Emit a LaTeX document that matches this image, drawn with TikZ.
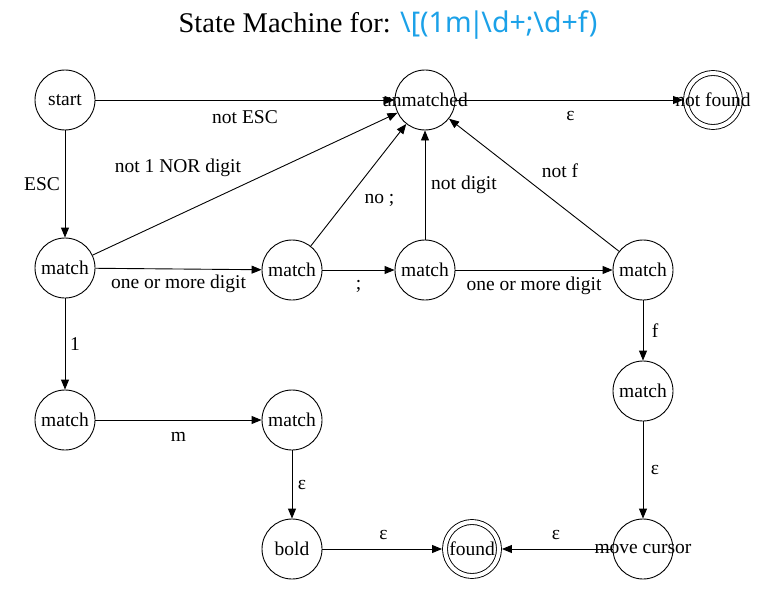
\documentclass[tikz,border=0pt]{standalone}
\usepackage{fontspec}
\setmainfont{Liberation Serif}
\newfontfamily\regexfont{Noto Sans}
\usepackage{tikz}
\usetikzlibrary{arrows.meta, positioning}
\definecolor{regexblue}{HTML}{1BA1E8}

\begin{document}
\begin{tikzpicture}[
    x=1pt, y=-1pt,
    % Styles for the state machine
    state/.style={draw, circle, line width=0.9pt, minimum size=60pt, inner sep=0pt, font=\fontsize{19.5}{22}\selectfont},
    final/.style={state, minimum size=54pt, double, double distance=4pt},
    edge/.style={line width=0.9pt, draw=black, -{Triangle[length=10pt, width=8pt]}},
    lbl/.style={font=\fontsize{19.5}{22}\selectfont, inner sep=0pt}
]
\useasboundingbox (0,0) rectangle (778,591);

        % --- Title ---
        \node[font=\fontsize{28.5}{32}\selectfont] (title) at (388,25)
            {State Machine for: \textcolor{regexblue}{\regexfont\textbackslash[(1m\kern-3pt|\kern-3pt\textbackslash d+;\textbackslash d+f)}};

        % --- Top Row ---
        \node[state] (start) at (65, 100) {start};
        \node[state] (unm) at (425, 100) {\makebox[0pt]{unmatched}};
        \node[final] (nf) at (713, 100) {\makebox[0pt]{not found}};

        % --- Middle Row ---
        \node[state] (m1) at (65, 268) {match};
        \node[state] (m2) at (292, 270) {match};
        \node[state] (m3) at (425, 270) {match};
        \node[state] (m4) at (643, 270) {match};

        % --- Lower Rows ---
        \node[state] (m5) at (65, 420) {match};
        \node[state] (m6) at (292, 420) {match};
        \node[state] (m7) at (643, 391) {match};
        \node[state] (bold) at (292, 549) {bold};
        \node[final] (found) at (472, 549) {\makebox[0pt]{found}};
        \node[state] (mc) at (643, 549) {\makebox[0pt]{move cursor}};

        % --- Edges ---
        % Top row
        \draw[edge] (start) -- node[lbl, yshift=-17pt] {not ESC} (unm);
        \draw[edge, shorten >=2.5pt] (unm) -- node[lbl, yshift=-16pt] {ε} (nf);
        \draw[edge] (start) -- node[lbl, xshift=-23pt] {ESC} (m1);
        % Back to unmatched
        \draw[edge] (m1) -- node[lbl, pos=0.28, yshift=47pt] {not 1 NOR digit} (unm);
        \draw[edge] (m2) -- node[lbl, xshift=21pt, yshift=-15pt] {no ;} (unm);
        \draw[edge] (m3) -- node[lbl, xshift=39pt] {not digit} (unm);
        \draw[edge] (m4) -- node[lbl, xshift=26pt, yshift=14pt] {not f} (unm);
        % Middle row
        \draw[edge] (m1) -- node[lbl, yshift=-15pt] {one or more digit} (m2);
        \draw[edge] (m2) -- node[lbl, yshift=-16pt] {;} (m3);
        \draw[edge] (m3) -- node[lbl, yshift=-16pt] {one or more digit} (m4);
        % Bold branch
        \draw[edge] (m1) -- node[lbl, xshift=10pt] {1} (m5);
        \draw[edge] (m5) -- node[lbl, yshift=-17pt] {m} (m6);
        \draw[edge] (m6) -- node[lbl, xshift=10pt] {ε} (bold);
        \draw[edge, shorten >=2.5pt] (bold) -- node[lbl, yshift=14pt] {ε} (found);
        % Cursor branch
        \draw[edge] (m4) -- node[lbl, xshift=12pt] {f} (m7);
        \draw[edge] (m7) -- node[lbl, xshift=12pt] {ε} (mc);
        \draw[edge, shorten >=2.5pt] (mc) -- node[lbl, yshift=14pt] {ε} (found);

    \end{tikzpicture}
\end{document}
